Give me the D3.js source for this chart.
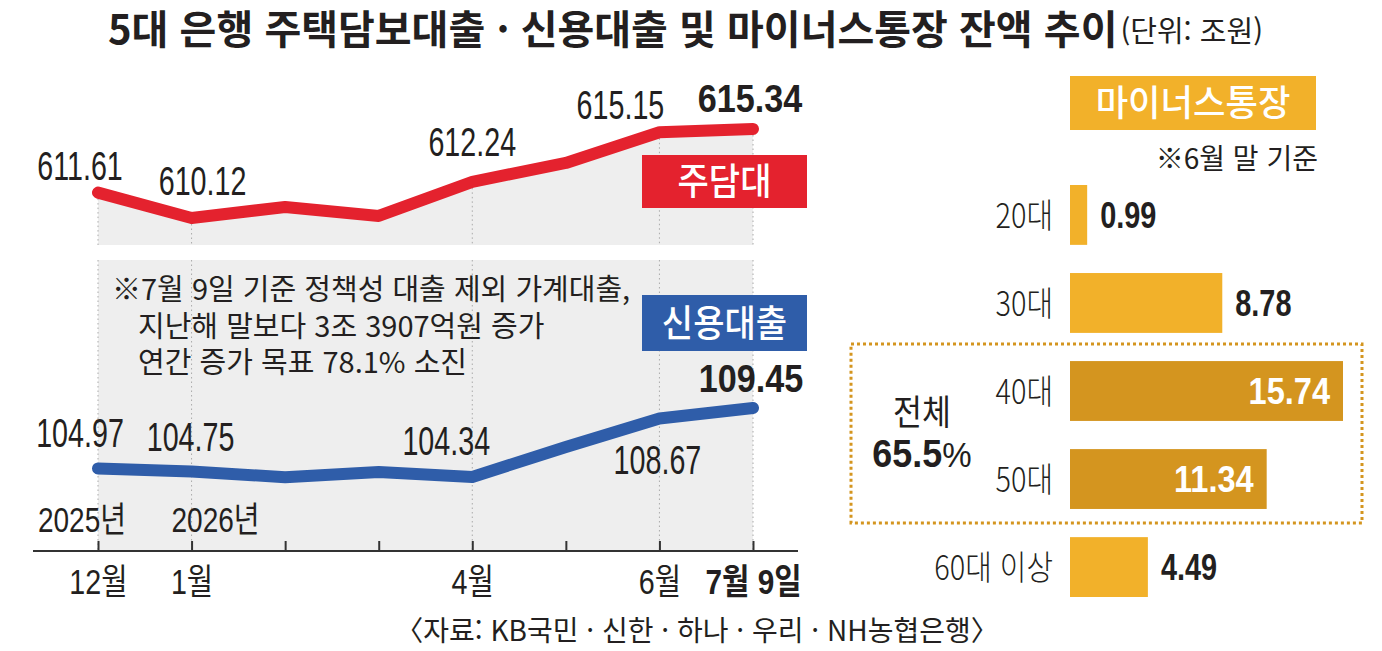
<!DOCTYPE html>
<html lang="ko">
<head>
<meta charset="UTF-8">
<title>5대 은행 주택담보대출 · 신용대출 및 마이너스통장 잔액 추이</title>
<script src="https://d3js.org/d3.v7.min.js"></script>
<style>
  body { margin: 0; background: #fff; }
  svg { display: block; }
</style>
</head>
<body>
<div id="chart"></div>
<script>
// 월별 잔액 (단위: 조원)
const months = ["12월", "1월", "2월", "3월", "4월", "5월", "6월", "7월 9일"];
const monthTicks = ["12월", "1월", "", "", "4월", "", "6월", "7월 9일"];
const mortgage = [611.61, 610.12, 610.77, 610.24, 612.24, 613.35, 615.15, 615.34];
const credit = [104.97, 104.75, 104.32, 104.71, 104.34, 106.56, 108.67, 109.45];
const labeledIdx = [0, 1, 4, 6, 7];
const years = ["2025년", "2026년"];

// 마이너스통장 연령대별 잔액 (6월 말 기준)
const ages = ["20대", "30대", "40대", "50대", "60대 이상"];
const overdraft = [0.99, 8.78, 15.74, 11.34, 4.49];
const highlightAges = ["40대", "50대"];
const highlightShare = "65.5";

const note = [
  "※7월 9일 기준 정책성 대출 제외 가계대출,",
  "지난해 말보다 3조 3907억원 증가",
  "연간 증가 목표 78.1% 소진"
];

// label offsets from their point (px)
const mortOff = {0: [-18, -13], 1: [11, -23], 4: [0, -26], 6: [-39, -13], 7: [-3, -17]};
const credOff = {0: [-18, -21], 1: [-1, -20], 4: [-26, -22], 6: [-2, 55], 7: [-2, -16]};

const KR = "'Noto Sans CJK KR', 'Noto Sans', sans-serif";
const NUM = "'Liberation Sans', Arial, 'Noto Sans CJK KR', sans-serif";
const INK = "#231f20";
const RED = "#e4222e", BLUE = "#2f5da9", GOLD = "#f2b12a", DGOLD = "#d4951f", GRAY = "#eeeeee";

const W = 1382, H = 651;
const svg = d3.select("#chart").append("svg").attr("width", W).attr("height", H);

function label(g, txt, x, y, o = {}) {
  return g.append("text")
    .attr("transform", `translate(${x},${y}) scale(${o.sx || 1},1)`)
    .attr("text-anchor", o.anchor || "start")
    .attr("font-family", o.family || KR)
    .attr("font-size", o.size || 28)
    .attr("font-weight", o.weight || 400)
    .attr("fill", o.fill || INK)
    .text(txt);
}

// title
const title = label(svg, "5대 은행 주택담보대출 · 신용대출 및 마이너스통장 잔액 추이", 108, 44, {size: 40, weight: 700});
const tw = title.node().getComputedTextLength();
label(svg, "(단위: 조원)", 108 + tw + 3, 42, {size: 29});

// ---- left: line chart ----
const x = d3.scalePoint().domain(months).range([98, 753]);
const yR = d3.scaleLinear().domain([610.12, 615.34]).range([218, 129]);
const yB = d3.scaleLinear().domain([104.34, 109.45]).range([477, 408]);
const topBottom = 245, panelTop = 260, axisY = 551;

const left = svg.append("g");

// gray panels
left.append("path")
  .datum(mortgage)
  .attr("fill", GRAY)
  .attr("d", d3.area().x((d, i) => x(months[i])).y0(topBottom).y1(d => yR(d)));

left.append("rect")
  .attr("x", x(months[0])).attr("y", panelTop)
  .attr("width", x(months[months.length - 1]) - x(months[0]))
  .attr("height", axisY - panelTop)
  .attr("fill", GRAY);

// dotted guides
labeledIdx.forEach(i => {
  const gx = x(months[i]);
  left.append("line").attr("x1", gx).attr("x2", gx)
    .attr("y1", yR(mortgage[i]) + 6).attr("y2", topBottom)
    .attr("stroke", "#aaa").attr("stroke-dasharray", "1.5,3");
  left.append("line").attr("x1", gx).attr("x2", gx)
    .attr("y1", panelTop).attr("y2", axisY)
    .attr("stroke", "#aaa").attr("stroke-dasharray", "1.5,3");
});

// note
note.forEach((t, i) => {
  label(left, t, i === 0 ? 112 : 138, [300, 337, 373][i], {size: 29});
});

// lines
const lineR = d3.line().x((d, i) => x(months[i])).y(d => yR(d));
const lineB = d3.line().x((d, i) => x(months[i])).y(d => yB(d));
left.append("path").datum(mortgage).attr("d", lineR)
  .attr("fill", "none").attr("stroke", RED).attr("stroke-width", 12)
  .attr("stroke-linejoin", "round").attr("stroke-linecap", "round");
left.append("path").datum(credit).attr("d", lineB)
  .attr("fill", "none").attr("stroke", BLUE).attr("stroke-width", 12)
  .attr("stroke-linejoin", "round").attr("stroke-linecap", "round");

// value labels
const last = months.length - 1;
labeledIdx.forEach(i => {
  const bold = i === last;
  const o1 = mortOff[i], o2 = credOff[i];
  const style = bold ? {size: 38, weight: 700, sx: 0.9, family: NUM, anchor: "middle"}
                     : {size: 41, sx: 0.7, family: NUM, anchor: "middle"};
  label(left, mortgage[i].toFixed(2), x(months[i]) + o1[0], yR(mortgage[i]) + o1[1], style);
  label(left, credit[i].toFixed(2), x(months[i]) + o2[0], yB(credit[i]) + o2[1], style);
});

// series tags
const tagW = 165;
left.append("rect").attr("x", 642).attr("y", 155).attr("width", tagW).attr("height", 53).attr("fill", RED);
label(left, "주담대", 642 + tagW / 2, 195, {size: 37, weight: 500, sx: 0.92, fill: "#fff", anchor: "middle"});
left.append("rect").attr("x", 642).attr("y", 295).attr("width", tagW).attr("height", 56).attr("fill", BLUE);
label(left, "신용대출", 642 + tagW / 2, 337, {size: 37, weight: 500, sx: 0.92, fill: "#fff", anchor: "middle"});

// year labels
label(left, years[0], x(months[0]) - 16, 532, {size: 35, sx: 0.8, family: NUM, anchor: "middle"});
label(left, years[1], x(months[1]) + 24, 532, {size: 35, sx: 0.8, family: NUM, anchor: "middle"});

// axis
const axis = left.append("g")
  .attr("transform", `translate(0,${axisY})`)
  .call(d3.axisBottom(x).tickSize(-10).tickPadding(18).tickFormat((d, i) => monthTicks[i]));
axis.select(".domain").remove();
axis.selectAll(".tick line").attr("stroke", "#333").attr("stroke-width", 2);
axis.selectAll(".tick text")
  .attr("fill", INK)
  .attr("font-family", NUM)
  .attr("font-size", 35)
  .attr("font-weight", (d, i) => i === last ? 700 : 400)
  .attr("transform", (d, i) => i === last ? "scale(0.85,1)" : "scale(0.82,1)");
left.append("line").attr("x1", 33).attr("x2", 798).attr("y1", axisY).attr("y2", axisY)
  .attr("stroke", "#333").attr("stroke-width", 2);

// source
label(svg, "〈자료: KB국민 · 신한 · 하나 · 우리 · NH농협은행〉", 697, 641, {size: 28, anchor: "middle"});

// ---- right: bar chart ----
const right = svg.append("g");
const yb = d3.scaleBand().domain(ages).range([185, 597]).paddingInner(0.32).paddingOuter(0);
const xb = d3.scaleLinear().domain([0, d3.max(overdraft)]).range([1070, 1343]);

right.append("rect").attr("x", 1070).attr("y", 76).attr("width", 246).attr("height", 54).attr("fill", GOLD);
label(right, "마이너스통장", 1193, 116, {size: 36, weight: 500, sx: 0.98, fill: "#fff", anchor: "middle"});
label(right, "※6월 말 기준", 1318, 169, {size: 28, anchor: "end"});

// highlight box
const hb0 = yb(highlightAges[0]) - 17;
const hb1 = yb(highlightAges[highlightAges.length - 1]) + yb.bandwidth() + 14;
right.append("rect").attr("x", 851).attr("y", hb0).attr("width", 511).attr("height", hb1 - hb0)
  .attr("fill", "none").attr("stroke", DGOLD).attr("stroke-width", 3).attr("stroke-dasharray", "3,3");
const share = right.append("text")
  .attr("transform", `translate(922,467) scale(0.92,1)`)
  .attr("text-anchor", "middle").attr("fill", INK).attr("font-family", NUM);
share.append("tspan").attr("font-size", 39).attr("font-weight", 700).text(highlightShare);
share.append("tspan").attr("font-size", 36).attr("font-weight", 400).text("%");
label(right, "전체", 922, 425, {size: 35, sx: 0.9, anchor: "middle"});

ages.forEach((a, i) => {
  const v = overdraft[i];
  const hi = highlightAges.includes(a);
  const cy = yb(a) + yb.bandwidth() / 2;
  right.append("rect")
    .attr("x", xb(0)).attr("y", yb(a))
    .attr("width", xb(v) - xb(0)).attr("height", yb.bandwidth())
    .attr("fill", hi ? DGOLD : GOLD);
  label(right, a, 1053, cy + 13, {size: 34, weight: 300, sx: 0.85, anchor: "end"});
  if (hi) {
    label(right, v.toFixed(2), xb(v) - 13, cy + 13, {size: 37, weight: 700, sx: 0.88, family: NUM, anchor: "end", fill: "#fff"});
  } else {
    label(right, v.toFixed(2), xb(v) + 13, cy + 13, {size: 37, weight: 700, sx: 0.78, family: NUM});
  }
});
</script>
</body>
</html>
